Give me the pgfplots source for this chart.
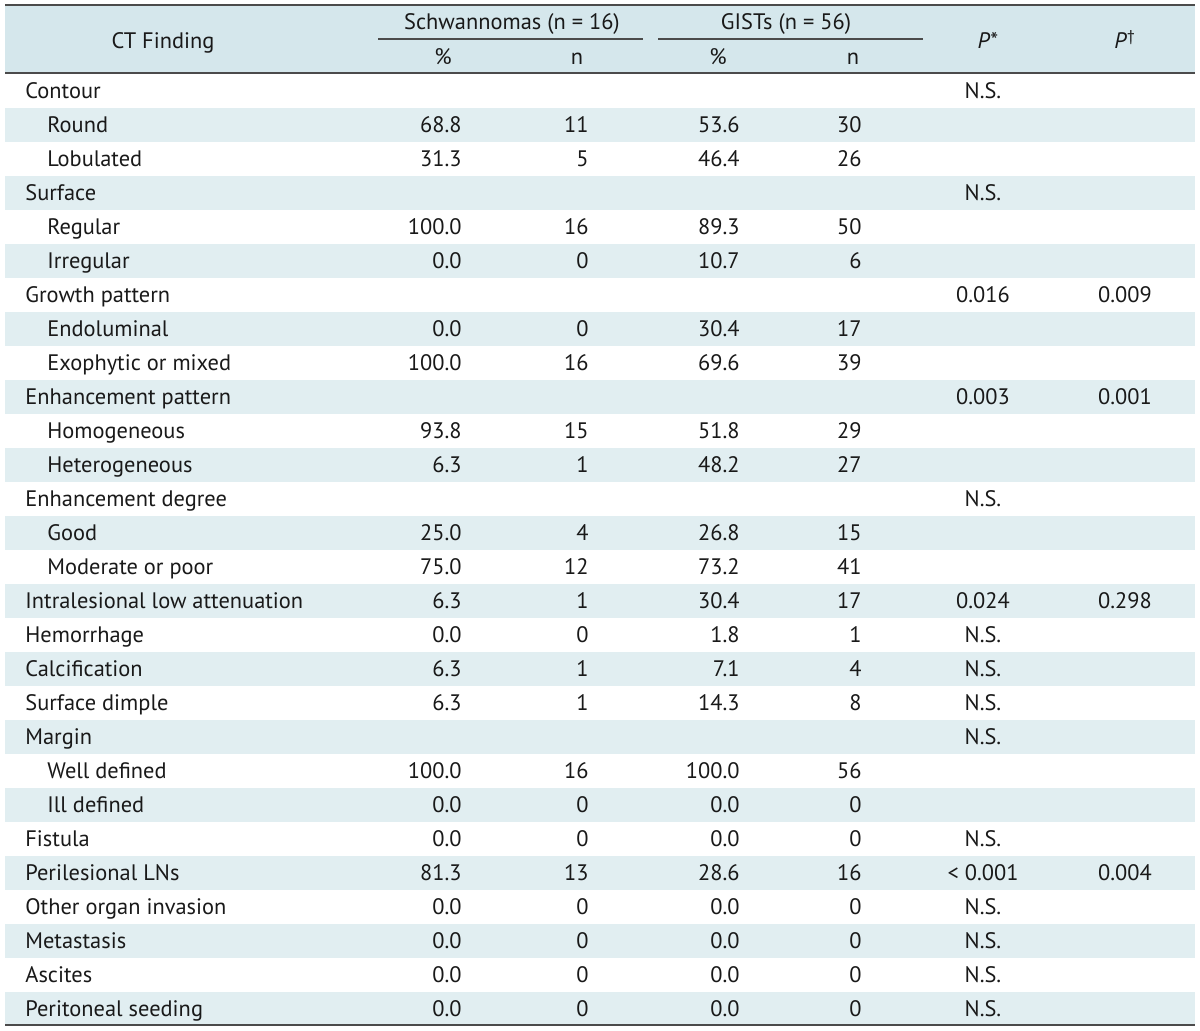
\documentclass[border=0pt]{standalone}
\usepackage{fontspec}
\setmainfont{PT Sans}
\usepackage{pgfplots}
\usepackage{pgfplotstable}
\pgfplotsset{compat=1.18}
\definecolor{hdr}{RGB}{213,231,236}
\definecolor{stripe}{RGB}{225,238,241}
\definecolor{rulec}{RGB}{75,75,75}
\definecolor{txt}{RGB}{25,25,25}
\newcommand\tf{\fontsize{11.2bp}{13bp}\selectfont}

\pgfplotstableread[col sep=comma, row sep=\\]{
row,name,lvl,sp,sn,gp,gn,pa,pb\\
0,Contour,0,,,,,N.S.,\\
1,Round,1,68.8,11,53.6,30,,\\
2,Lobulated,1,31.3,5,46.4,26,,\\
3,Surface,0,,,,,N.S.,\\
4,Regular,1,100.0,16,89.3,50,,\\
5,Irregular,1,0.0,0,10.7,6,,\\
6,Growth pattern,0,,,,,0.016,0.009\\
7,Endoluminal,1,0.0,0,30.4,17,,\\
8,Exophytic or mixed,1,100.0,16,69.6,39,,\\
9,Enhancement pattern,0,,,,,0.003,0.001\\
10,Homogeneous,1,93.8,15,51.8,29,,\\
11,Heterogeneous,1,6.3,1,48.2,27,,\\
12,Enhancement degree,0,,,,,N.S.,\\
13,Good,1,25.0,4,26.8,15,,\\
14,Moderate or poor,1,75.0,12,73.2,41,,\\
15,Intralesional low attenuation,0,6.3,1,30.4,17,0.024,0.298\\
16,Hemorrhage,0,0.0,0,1.8,1,N.S.,\\
17,Calcification,0,6.3,1,7.1,4,N.S.,\\
18,Surface dimple,0,6.3,1,14.3,8,N.S.,\\
19,Margin,0,,,,,N.S.,\\
20,Well defined,1,100.0,16,100.0,56,,\\
21,Ill defined,1,0.0,0,0.0,0,,\\
22,Fistula,0,0.0,0,0.0,0,N.S.,\\
23,Perilesional LNs,0,81.3,13,28.6,16,< 0.001,0.004\\
24,Other organ invasion,0,0.0,0,0.0,0,N.S.,\\
25,Metastasis,0,0.0,0,0.0,0,N.S.,\\
26,Ascites,0,0.0,0,0.0,0,N.S.,\\
27,Peritoneal seeding,0,0.0,0,0.0,0,N.S.,\\
}\data

\begin{document}
\begin{tikzpicture}
\begin{axis}[
  hide axis, scale only axis,
  width=600bp, height=515.5bp,
  xmin=0, xmax=1200, ymin=0, ymax=1031,
  y dir=reverse, clip=false,
  point meta=explicit symbolic,
  nodes near coords,
  every node near coord/.append style={font=\tf, text=txt, inner sep=0pt},
]
\path (axis cs:0,0) rectangle (axis cs:1200,1031);
% header background
\fill[hdr] (axis cs:5,5) rectangle (axis cs:1195,73);
% stripes
\pgfplotsinvokeforeach{1,3,...,27}{
  \fill[stripe] (axis cs:5,{74+34*#1}) rectangle (axis cs:1195,{108+34*#1});
}
% rules
\draw[rulec, line width=1bp] (axis cs:5,5) -- (axis cs:1195,5);
\draw[rulec, line width=0.8bp] (axis cs:5,73) -- (axis cs:1195,73);
\draw[rulec, line width=1bp] (axis cs:5,1025) -- (axis cs:1195,1025);
\draw[rulec, line width=0.6bp] (axis cs:378,39) -- (axis cs:643,39);
\draw[rulec, line width=0.6bp] (axis cs:658,39) -- (axis cs:923,39);
% header text
\node[font=\tf, text=txt, anchor=mid] at (axis cs:163,44) {CT Finding};
\node[font=\tf, text=txt, anchor=mid] at (axis cs:512,25) {Schwannomas (n = 16)};
\node[font=\tf, text=txt, anchor=mid] at (axis cs:786,25) {GISTs (n = 56)};
\node[font=\tf, text=txt, anchor=mid] at (axis cs:443,60) {\%};
\node[font=\tf, text=txt, anchor=mid] at (axis cs:577,60) {n};
\node[font=\tf, text=txt, anchor=mid] at (axis cs:718,60) {\%};
\node[font=\tf, text=txt, anchor=mid] at (axis cs:853,60) {n};
\node[font=\tf, text=txt, anchor=mid] at (axis cs:988,44) {\textit{P}*};
\node[font=\tf, text=txt, anchor=mid] at (axis cs:1125,44) {\textit{P}\textsuperscript{†}};
% body
\addplot[draw=none, mark=none, nodes near coords align={anchor=mid west}]
  table[x expr={25+22*\thisrow{lvl}}, y expr={94+34*\thisrow{row}}, meta=name] {\data};
\addplot[draw=none, mark=none, nodes near coords align={anchor=mid east}]
  table[x expr=462, y expr={94+34*\thisrow{row}}, meta=sp] {\data};
\addplot[draw=none, mark=none, nodes near coords align={anchor=mid east}]
  table[x expr=589, y expr={94+34*\thisrow{row}}, meta=sn] {\data};
\addplot[draw=none, mark=none, nodes near coords align={anchor=mid east}]
  table[x expr=740, y expr={94+34*\thisrow{row}}, meta=gp] {\data};
\addplot[draw=none, mark=none, nodes near coords align={anchor=mid east}]
  table[x expr=862, y expr={94+34*\thisrow{row}}, meta=gn] {\data};
\addplot[draw=none, mark=none, nodes near coords align={anchor=mid}]
  table[x expr=983, y expr={94+34*\thisrow{row}}, meta=pa] {\data};
\addplot[draw=none, mark=none, nodes near coords align={anchor=mid}]
  table[x expr=1125, y expr={94+34*\thisrow{row}}, meta=pb] {\data};
\end{axis}
\end{tikzpicture}
\end{document}
